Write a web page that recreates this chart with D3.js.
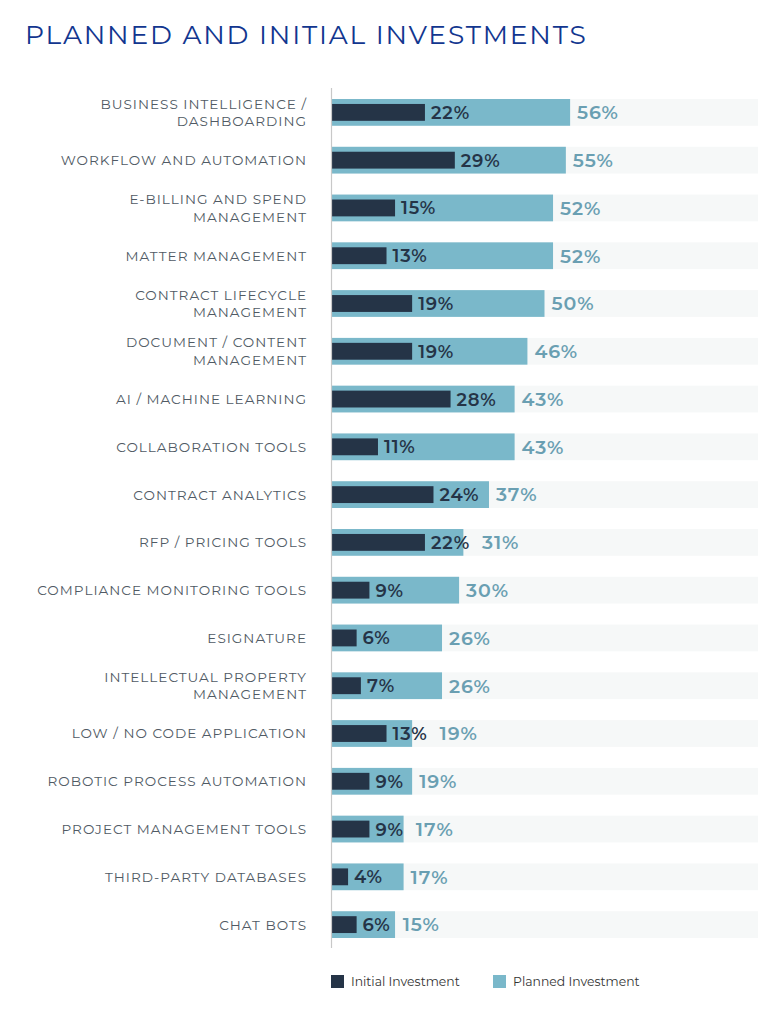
<!DOCTYPE html>
<html><head><meta charset="utf-8">
<script src="https://cdn.jsdelivr.net/npm/d3@7"></script>
<style>body{margin:0;background:#fff}</style>
</head><body><svg id="c" width="782" height="1024"></svg>
<script>
const categories = [
  ["BUSINESS INTELLIGENCE /","DASHBOARDING"],
  ["WORKFLOW AND AUTOMATION"],
  ["E-BILLING AND SPEND","MANAGEMENT"],
  ["MATTER MANAGEMENT"],
  ["CONTRACT LIFECYCLE","MANAGEMENT"],
  ["DOCUMENT / CONTENT","MANAGEMENT"],
  ["AI / MACHINE LEARNING"],
  ["COLLABORATION TOOLS"],
  ["CONTRACT ANALYTICS"],
  ["RFP / PRICING TOOLS"],
  ["COMPLIANCE MONITORING TOOLS"],
  ["ESIGNATURE"],
  ["INTELLECTUAL PROPERTY","MANAGEMENT"],
  ["LOW / NO CODE APPLICATION"],
  ["ROBOTIC PROCESS AUTOMATION"],
  ["PROJECT MANAGEMENT TOOLS"],
  ["THIRD-PARTY DATABASES"],
  ["CHAT BOTS"]
];
const initialInvestment = [22,29,15,13,19,19,28,11,24,22,9,6,7,13,9,9,4,6];
const plannedInvestment = [56,55,52,52,50,46,43,43,37,31,30,26,26,19,19,17,17,15];
const seriesNames = ["Initial Investment","Planned Investment"];

const svg = d3.select("#c");
const font = "Montserrat, 'Open Sans', sans-serif";
const cInit = "#253447", cPlan = "#7ab8ca", cTrack = "#f6f8f8", cPlanTxt = "#6a9fb2";

svg.append("text").attr("x",25).attr("y",44).attr("fill","#12368f")
  .attr("font-family",font).attr("font-size",26.5).attr("letter-spacing","1.8")
  .text("PLANNED AND INITIAL INVESTMENTS");

const x = d3.scaleLinear().domain([0,100]).range([331,758]);
const y = d3.scaleBand().domain(d3.range(categories.length)).range([88.5,948.5]).paddingInner(0.44).paddingOuter(0.22);
const bh = y.bandwidth();
const ih = bh*0.63;

const g = svg.append("g");
const rows = g.selectAll("g.row").data(categories.map((c,i)=>({c,i,ini:initialInvestment[i],pl:plannedInvestment[i]})))
  .join("g").attr("class","row");

rows.append("rect").attr("x",x(0)).attr("width",x(100)-x(0)).attr("y",d=>y(d.i)).attr("height",bh).attr("fill",cTrack);
rows.append("rect").attr("x",x(0)).attr("width",d=>x(d.pl)-x(0)).attr("y",d=>y(d.i)).attr("height",bh).attr("fill",cPlan);
rows.append("rect").attr("x",x(0)).attr("width",d=>x(d.ini)-x(0)).attr("y",d=>y(d.i)+(bh-ih)/2).attr("height",ih).attr("fill",cInit);

rows.each(function(d){
  const r = d3.select(this);
  const cy = y(d.i)+bh/2;
  const ti = r.append("text").attr("x",x(d.ini)+6).attr("y",cy).attr("dy","0.36em")
    .attr("font-family",font).attr("font-size",18).attr("font-weight",600).attr("fill",cInit)
    .attr("letter-spacing","0.8").text(d.ini+"%");
  const iEnd = x(d.ini)+6+ti.node().getComputedTextLength();
  const px = Math.max(x(d.pl)+7, iEnd+12);
  r.append("text").attr("x",px).attr("y",cy).attr("dy","0.36em")
    .attr("font-family",font).attr("font-size",19).attr("font-weight",600).attr("fill",cPlanTxt)
    .attr("letter-spacing","0.9").text(d.pl+"%");

  const t = r.append("text").attr("text-anchor","end")
    .attr("font-family",font).attr("font-size",13.6).attr("fill","#505a64").attr("letter-spacing","1.0");
  const n = d.c.length;
  d.c.forEach((line,k)=>{
    t.append("tspan").attr("x",307).attr("y",cy+(k-(n-1)/2)*17.5).attr("dy","0.36em").text(line);
  });
});

svg.append("line").attr("x1",331.5).attr("x2",331.5).attr("y1",88).attr("y2",948)
  .attr("stroke","#c8c8c8").attr("stroke-width",1.2);

const lg = svg.append("g");
const lx = [331,493];
seriesNames.forEach((s,i)=>{
  lg.append("rect").attr("x",lx[i]).attr("y",975).attr("width",13).attr("height",13).attr("fill",i?cPlan:cInit);
  lg.append("text").attr("x",lx[i]+20).attr("y",982).attr("dy","0.36em").attr("font-family",font)
    .attr("font-size",12.4).attr("fill","#333").text(s);
});
</script></body></html>
